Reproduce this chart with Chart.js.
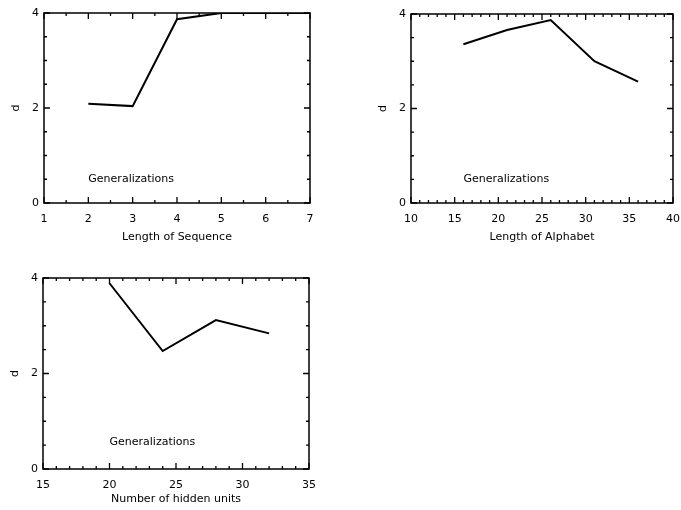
<!DOCTYPE html>
<html>
<head>
<meta charset="utf-8">
<title>d vs. network parameters</title>
<script src="https://cdn.jsdelivr.net/npm/chart.js@4/dist/chart.umd.min.js"></script>
<style>
  body { margin: 0; background: #fff; }
  #wrap { position: relative; width: 681px; height: 510px; background: #fff; }
  #wrap canvas { position: absolute; left: 0; top: 0; }
</style>
</head>
<body>
<div id="wrap">
  <canvas id="seqChart" width="681" height="510"></canvas>
  <canvas id="alphaChart" width="681" height="510"></canvas>
  <canvas id="hiddenChart" width="681" height="510"></canvas>
</div>
<script>
// d against sequence length, alphabet length and hidden units
const seqLength = [2, 3, 4, 5, 6, 7];
const seqD = [2.09, 2.04, 3.87, 4.0, 4.0, 4.0];

const alphaLength = [16, 21, 26, 31, 36];
const alphaD = [3.36, 3.66, 3.87, 3.0, 2.57];

const hiddenUnits = [20, 24, 28, 32];
const hiddenD = [3.89, 2.47, 3.12, 2.84];

const xTitles = ["Length of Sequence", "Length of Alphabet", "Number of hidden units"];
const yTitle = "d";
const noteText = "Generalizations";

// axis ranges: [min, max, labelled step, minor step]
const seqTicks = [1, 7, 1, 0.5];
const alphaTicks = [10, 40, 5, 1];
const hiddenTicks = [15, 35, 5, 1];
const dTicks = [0, 4, 2, 0.5];

Chart.defaults.font.family = "'DejaVu Sans', sans-serif";
Chart.defaults.font.size = 11;
Chart.defaults.color = "#000";

// box around the plot, inward tick marks on all four sides and the note text
const framePlugin = {
  id: "frame",
  afterDatasetsDraw(chart, args, opts) {
    const ctx = chart.ctx;
    const a = chart.chartArea;
    const xs = chart.scales.x, ys = chart.scales.y;
    ctx.save();
    ctx.strokeStyle = "#000";
    ctx.lineWidth = 1.5;
    ctx.strokeRect(a.left, a.top, a.right - a.left, a.bottom - a.top);

    function ticks(t, draw) {
      const n = Math.round((t[1] - t[0]) / t[3]);
      for (let i = 0; i <= n; i++) {
        const v = t[0] + i * t[3];
        const r = v / t[2];
        const major = Math.abs(r - Math.round(r)) < 1e-6;
        draw(v, major ? 6 : 3);
      }
    }
    ctx.lineWidth = 1.3;
    ctx.beginPath();
    ticks(opts.xTicks, (v, len) => {
      const px = xs.getPixelForValue(v);
      ctx.moveTo(px, a.bottom); ctx.lineTo(px, a.bottom - len);
      ctx.moveTo(px, a.top); ctx.lineTo(px, a.top + len);
    });
    ticks(dTicks, (v, len) => {
      const py = ys.getPixelForValue(v);
      ctx.moveTo(a.left, py); ctx.lineTo(a.left + len, py);
      ctx.moveTo(a.right, py); ctx.lineTo(a.right - len, py);
    });
    ctx.stroke();

    ctx.fillStyle = "#000";
    ctx.font = "11px 'DejaVu Sans', sans-serif";
    ctx.textAlign = "left";
    ctx.textBaseline = "middle";
    ctx.fillText(noteText, xs.getPixelForValue(opts.note[0]), ys.getPixelForValue(opts.note[1]));
    ctx.restore();
  }
};

function makePanel(id, xVals, yVals, xTicks, xTitle, note, padding, xHeight) {
  return new Chart(id, {
    type: "line",
    data: {
      datasets: [{
        data: xVals.map((x, i) => ({ x: x, y: yVals[i] })),
        borderColor: "#000",
        borderWidth: 2,
        pointRadius: 0,
        tension: 0,
        fill: false
      }]
    },
    options: {
      responsive: false,
      animation: false,
      devicePixelRatio: 1,
      layout: { padding: padding },
      plugins: {
        legend: { display: false },
        tooltip: { enabled: false },
        frame: { xTicks: xTicks, note: note }
      },
      scales: {
        x: {
          type: "linear",
          min: xTicks[0],
          max: xTicks[1],
          grid: { display: false, drawTicks: false },
          border: { display: false },
          ticks: { stepSize: xTicks[2], padding: 10, maxRotation: 0 },
          title: { display: true, text: xTitle, padding: { top: 0, bottom: 4 } },
          afterFit: s => {
            s.height = xHeight;
            // end labels may hang past the plot box; the page padding covers them
            s.paddingLeft = 0;
            s.paddingRight = 0;
          }
        },
        y: {
          min: dTicks[0],
          max: dTicks[1],
          grid: { display: false, drawTicks: false },
          border: { display: false },
          ticks: { stepSize: dTicks[2], padding: 5 },
          title: { display: true, text: yTitle },
          afterFit: s => { s.width = 38; }
        }
      }
    },
    plugins: [framePlugin]
  });
}

makePanel("seqChart", seqLength, seqD, seqTicks, xTitles[0], [2, 0.5],
  { left: 6, right: 371, top: 13, bottom: 262 }, 45);
makePanel("alphaChart", alphaLength, alphaD, alphaTicks, xTitles[1], [16, 0.5],
  { left: 373, right: 8, top: 14, bottom: 262 }, 45);
makePanel("hiddenChart", hiddenUnits, hiddenD, hiddenTicks, xTitles[2], [20, 0.57],
  { left: 5, right: 372, top: 278, bottom: 0 }, 41);
</script>
</body>
</html>
